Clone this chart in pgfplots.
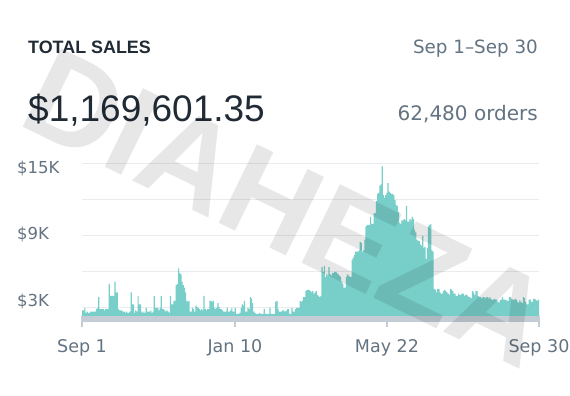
\documentclass[border=0pt]{standalone}
\usepackage{pgfplots}
\pgfplotsset{compat=1.18}
\usepackage{pgfplotstable}
\usepackage{fontspec}
\setmainfont{Liberation Sans}
\newfontfamily\dv{DejaVu Sans}
\definecolor{ink}{HTML}{212B36}
\definecolor{inkl}{HTML}{637381}
\definecolor{tealbar}{RGB}{120,206,201}
\definecolor{gridc}{HTML}{E9ECEF}
\definecolor{band}{HTML}{C4CDD5}

\pgfplotstableread{
d v
0 2.8
1 2.8
2 3.0
3 2.6
4 2.7
5 2.6
6 2.6
7 2.7
8 2.7
9 2.7
10 2.7
11 2.7
12 2.9
13 3.0
14 3.9
15 2.9
16 2.9
17 2.9
18 2.9
19 2.8
20 2.9
21 2.9
22 2.9
23 5.0
24 4.0
25 4.0
26 4.0
27 4.0
28 5.2
29 4.3
30 4.3
31 2.9
32 2.8
33 2.8
34 2.8
35 2.7
36 2.7
37 2.6
38 2.7
39 2.6
40 2.6
41 2.7
42 4.3
43 3.3
44 3.3
45 2.6
46 2.8
47 2.7
48 4.0
49 3.3
50 3.3
51 2.7
52 2.6
53 2.7
54 2.6
55 3.0
56 2.7
57 2.7
58 2.7
59 2.8
60 2.6
61 2.7
62 4.0
63 3.0
64 3.0
65 3.0
66 2.8
67 3.0
68 4.0
69 2.9
70 2.9
71 2.8
72 2.7
73 2.8
74 2.7
75 2.6
76 4.0
77 3.3
78 3.3
79 3.6
80 3.6
81 4.9
82 5.0
83 6.3
84 5.9
85 5.8
86 5.2
87 4.9
88 4.7
89 4.3
90 3.6
91 3.5
92 3.6
93 2.7
94 2.7
95 3.0
96 2.9
97 2.7
98 3.2
99 3.1
100 3.0
101 2.9
102 2.8
103 2.9
104 2.8
105 4.0
106 2.9
107 2.8
108 2.9
109 2.9
110 3.6
111 3.6
112 3.5
113 3.6
114 3.0
115 2.9
116 3.0
117 3.4
118 3.1
119 2.9
120 2.9
121 2.8
122 2.7
123 2.7
124 2.7
125 3.0
126 2.7
127 2.7
128 2.8
129 3.0
130 2.7
131 2.7
132 3.0
133 2.5
134 2.5
135 2.5
136 2.6
137 3.0
138 3.3
139 3.2
140 3.6
141 2.7
142 2.7
143 3.0
144 2.9
145 3.9
146 3.8
147 3.4
148 2.7
149 2.6
150 2.5
151 2.5
152 2.5
153 2.6
154 2.5
155 2.5
156 2.5
157 2.9
158 2.5
159 2.5
160 2.5
161 2.5
162 3.0
163 2.5
164 2.5
165 2.5
166 2.5
167 3.5
168 3.6
169 2.9
170 2.7
171 2.7
172 2.7
173 2.8
174 2.8
175 2.7
176 2.75
177 2.9
178 2.9
179 2.5
180 2.5
181 3.0
182 2.7
183 2.7
184 2.9
185 3.0
186 3.0
187 3.0
188 3.6
189 3.5
190 3.6
191 3.9
192 3.9
193 4.4
194 4.5
195 4.5
196 4.5
197 4.4
198 4.3
199 4.4
200 4.2
201 4.3
202 4.4
203 4.1
204 4.0
205 3.9
206 4.0
207 6.4
208 6.0
209 6.5
210 5.6
211 5.8
212 5.7
213 6.4
214 5.8
215 5.7
216 5.9
217 5.9
218 6.0
219 6.0
220 5.9
221 5.8
222 5.7
223 5.6
224 5.2
225 5.0
226 4.7
227 4.7
228 5.6
229 5.8
230 5.7
231 5.6
232 5.6
233 7.0
234 7.2
235 7.4
236 7.7
237 7.7
238 7.7
239 7.8
240 8.5
241 8.4
242 7.7
243 7.8
244 8.7
245 9.8
246 9.9
247 9.9
248 9.9
249 10.6
250 10.0
251 10.0
252 10.9
253 10.9
254 11.9
255 12.5
256 12.6
257 13.2
258 13.3
259 14.8
260 12.4
261 12.2
262 12.4
263 12.6
264 13.4
265 12.7
266 12.6
267 12.5
268 12.5
269 12.4
270 12.0
271 11.6
272 11.5
273 11.0
274 10.1
275 10.0
276 10.3
277 10.3
278 10.4
279 10.3
280 11.5
281 10.2
282 10.2
283 10.4
284 10.3
285 10.6
286 10.4
287 9.5
288 9.3
289 8.7
290 8.6
291 8.6
292 8.3
293 8.2
294 9.0
295 8.0
296 8.1
297 7.1
298 8.0
299 9.8
300 9.9
301 10.0
302 7.8
303 7.7
304 4.6
305 4.5
306 4.3
307 4.6
308 4.6
309 4.3
310 4.2
311 4.2
312 4.4
313 4.5
314 4.4
315 4.3
316 4.2
317 4.1
318 4.6
319 4.5
320 4.4
321 4.2
322 4.2
323 4.0
324 4.0
325 4.2
326 4.1
327 4.1
328 4.2
329 4.2
330 4.0
331 4.1
332 4.1
333 4.0
334 3.9
335 3.9
336 3.8
337 4.4
338 4.3
339 4.1
340 4.4
341 4.4
342 4.0
343 3.9
344 3.9
345 3.8
346 3.9
347 3.9
348 3.8
349 3.9
350 3.9
351 3.8
352 3.9
353 3.75
354 3.65
355 3.7
356 3.75
357 3.7
358 3.7
359 3.5
360 3.45
361 3.65
362 3.7
363 3.9
364 3.7
365 3.7
366 3.65
367 3.6
368 3.6
369 3.9
370 3.9
371 3.75
372 3.7
373 3.65
374 3.75
375 3.7
376 3.5
377 3.45
378 3.65
379 3.5
380 3.4
381 3.9
382 3.85
383 3.5
384 3.3
385 3.3
386 3.7
387 3.7
388 3.5
389 3.5
390 3.75
391 3.75
392 3.65
393 3.6
394 3.7
395 3.7
}\sales

\begin{document}
\begin{tikzpicture}[x=1pt,y=1pt]
\path[use as bounding box] (0,0) rectangle (570,396);
\fill[white] (0,0) rectangle (570,396);

\node[anchor=base west, inner sep=0pt, text=ink, font=\bfseries\fontsize{17.9}{20}\selectfont] at (28,342) {TOTAL SALES};
\node[anchor=base east, inner sep=0pt, text=inkl, font=\dv\fontsize{18.3}{20}\selectfont] at (538,342) {Sep 1–Sep 30};
\node[anchor=base west, inner sep=0pt, text=ink, font=\fontsize{37}{40}\selectfont] at (28,274) {\$1,169,601.35};
\node[anchor=base east, inner sep=0pt, text=inkl, font=\dv\fontsize{20}{22}\selectfont] at (538,275) {62,480 orders};

\begin{axis}[
  at={(82pt,80pt)}, anchor=south west,
  scale only axis, width=457pt, height=152pt,
  xmin=0, xmax=395, ymin=2.3333, ymax=15,
  axis line style={draw=none},
  ymajorgrids, major grid style={gridc, line width=1pt},
  ytick={3,6,9,12,15},
  yticklabels={{\raisebox{1pt}[\height][\depth]{\$3K}},{},{\raisebox{-4pt}[\height][\depth]{\$9K}},{},{\raisebox{-10pt}[\height][\depth]{\$15K}}},
  ytick style={draw=none},
  yticklabel style={anchor=base west, inner sep=0pt, xshift=-54pt, text=inkl, font=\dv\fontsize{16.5}{18}\selectfont},
  xtick={0,132.2,263.6,395},
  xticklabels={Sep 1, Jan 10, May 22, Sep 30},
  xtick pos=bottom, ytick pos=left,
  tick align=outside,
  xtick style={color=band, line width=1.2pt},
  major tick length=11pt,
  xticklabel style={anchor=base, inner sep=0pt, yshift=-25pt, text=inkl, font=\dv\fontsize{17.5}{19}\selectfont},
]
\addplot[const plot, draw=none, fill=tealbar] table[x=d, y=v] {\sales} \closedcycle;
\end{axis}
\fill[band] (82,74) rectangle (539,80);

\node[rotate=-26, inner sep=0pt, text=black, text opacity=0.095, font=\bfseries\fontsize{127}{127}\selectfont] at (288,188) {DIAHEZA};
\end{tikzpicture}
\end{document}
